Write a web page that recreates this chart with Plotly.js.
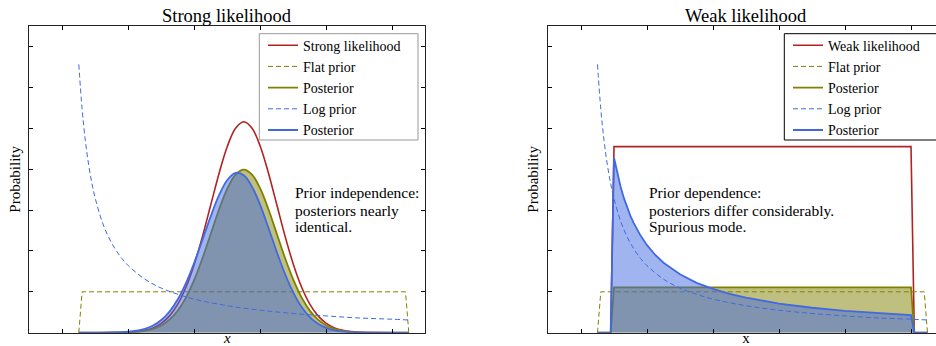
<!DOCTYPE html>
<html>
<head>
<meta charset="utf-8">
<script src="https://cdn.plot.ly/plotly-3.0.1.min.js"></script>
<style>
  html, body { margin: 0; padding: 0; overflow: hidden; background: #fff; }
  #plot { width: 960px; height: 346px; }
</style>
</head>
<body>
<div id="plot"></div>
<script>
// ---- Data ----
// Strong likelihood panel
const strongX = [0.5, 1, 1.5, 2, 2.25, 2.5, 2.75, 3, 3.25, 3.5, 3.75, 4, 4.25, 4.5, 4.75, 5, 5.25, 5.5,
                 5.75, 6, 6.25, 6.5, 6.75, 7, 7.25, 7.5, 7.75, 8, 8.25, 8.5, 8.75, 9, 9.5, 10, 10.5];
const strongLikelihood = [0, 0, 0.002, 0.011, 0.026, 0.057, 0.118, 0.227, 0.411, 0.698, 1.116, 1.675, 2.362,
                 3.130, 3.895, 4.554, 5.001, 5.16,
                 5.001, 4.554, 3.895, 3.130, 2.362, 1.675, 1.116, 0.698, 0.411, 0.227, 0.118, 0.057, 0.026,
                 0.011, 0.002, 0, 0];
const strongFlatPosterior = [0, 0, 0.001, 0.009, 0.020, 0.044, 0.091, 0.175, 0.318, 0.540, 0.863, 1.296, 1.827,
                 2.420, 3.012, 3.521, 3.867, 3.99,
                 3.867, 3.521, 3.012, 2.420, 1.827, 1.296, 0.863, 0.540, 0.318, 0.175, 0.091, 0.044, 0.020,
                 0.009, 0.001, 0, 0];
const strongLogPosterior = [0, 0.001, 0.005, 0.023, 0.048, 0.094, 0.175, 0.310, 0.518, 0.818, 1.221, 1.718, 2.279,
                 2.852, 3.363, 3.735, 3.907, 3.848,
                 3.567, 3.113, 2.556, 1.975, 1.435, 0.982, 0.631, 0.382, 0.217, 0.116, 0.059, 0.028, 0.012,
                 0.005, 0.001, 0, 0];
// Shared priors
const flatPriorX = [0.5, 0.6, 10.4, 10.5];
const flatPrior = [0, 1, 1, 0];
const logPriorX = [0.5, 0.6, 0.7, 0.8, 0.9, 1.0, 1.2, 1.4, 1.6, 1.8, 2.0, 2.5, 3, 3.5, 4, 5, 6, 7, 8, 9, 10, 10.5];
const logPrior = [6.56, 5.47, 4.69, 4.10, 3.64, 3.28, 2.73, 2.34, 2.05, 1.82, 1.64, 1.31, 1.09, 0.94, 0.82, 0.66,
                  0.55, 0.47, 0.41, 0.36, 0.33, 0.31];
// Weak likelihood panel
const weakBoxX = [0.5, 0.9, 1.0, 10.0, 10.1, 10.5];
const weakLikelihood = [0, 0, 4.55, 4.55, 0, 0];
const weakFlatPosterior = [0, 0, 1.11, 1.11, 0, 0];
const weakLogX = [0.5, 0.9, 1.0, 1.1, 1.2, 1.3, 1.4, 1.5, 1.6, 1.8, 2.0, 2.25, 2.5, 2.75, 3, 3.5, 4, 4.5, 5,
                  6, 7, 8, 9, 10, 10.1, 10.5];
const weakLogPosterior = [0, 0, 4.28, 3.89, 3.57, 3.29, 3.06, 2.85, 2.68, 2.38, 2.14, 1.90, 1.71, 1.56, 1.43,
                  1.22, 1.07, 0.95, 0.86, 0.71, 0.61, 0.535, 0.476, 0.428, 0, 0];
// Text
const legendNames = {strongLik: 'Strong likelihood', weakLik: 'Weak likelihood', flat: 'Flat prior',
                     post: 'Posterior', log: 'Log prior'};
const titles = ['Strong likelihood', 'Weak likelihood'];
const noteStrong = ['Prior independence:', 'posteriors nearly', 'identical.'];
const noteWeak = ['Prior dependence:', 'posteriors differ considerably.', 'Spurious mode.'];

// ---- Styling ----
const RED = '#b22222', OLIVE = '#808000', BLUE = '#4169e1';
const OLIVE_FILL = 'rgba(128,128,0,0.5)', BLUE_FILL = 'rgba(65,105,225,0.5)';
const FONT = 'Liberation Serif, Times New Roman, serif';
const W = 960, H = 346;

function panel(xa, ya, leg, likX, likY, likName, flatPostX, flatPostY, logPostX, logPostY, shape) {
  return [
    {x: likX, y: likY, xaxis: xa, yaxis: ya, legend: leg, name: likName, mode: 'lines',
     line: {color: RED, width: 1.6, shape: shape}},
    {x: flatPriorX, y: flatPrior, xaxis: xa, yaxis: ya, legend: leg, name: legendNames.flat, mode: 'lines',
     line: {color: OLIVE, width: 1, dash: '5px,3px'}},
    {x: flatPostX, y: flatPostY, xaxis: xa, yaxis: ya, showlegend: false, mode: 'lines', hoverinfo: 'skip',
     fill: 'tozeroy', fillcolor: OLIVE_FILL, line: {width: 0, shape: shape}},
    {x: flatPostX, y: flatPostY, xaxis: xa, yaxis: ya, legend: leg, name: legendNames.post, mode: 'lines',
     line: {color: OLIVE, width: 1.8, shape: shape}},
    {x: logPriorX, y: logPrior, xaxis: xa, yaxis: ya, legend: leg, name: legendNames.log, mode: 'lines',
     line: {color: BLUE, width: 1, dash: '5px,3px', shape: 'spline'}},
    {x: logPostX, y: logPostY, xaxis: xa, yaxis: ya, showlegend: false, mode: 'lines', hoverinfo: 'skip',
     fill: 'tozeroy', fillcolor: BLUE_FILL, line: {width: 0, shape: shape}},
    {x: logPostX, y: logPostY, xaxis: xa, yaxis: ya, legend: leg, name: legendNames.post, mode: 'lines',
     line: {color: BLUE, width: 1.8, shape: shape}}
  ];
}

const data = [].concat(
  panel('x', 'y', 'legend', strongX, strongLikelihood, legendNames.strongLik, strongX, strongFlatPosterior,
        strongX, strongLogPosterior, 'spline'),
  panel('x2', 'y2', 'legend2', weakBoxX, weakLikelihood, legendNames.weakLik, weakBoxX, weakFlatPosterior,
        weakLogX, weakLogPosterior, 'linear')
);

const yDom = [(H - 332.7) / H, (H - 26) / H];
function xAxis(dom, titleText) {
  return {domain: dom, range: [-1, 11], dtick: 2, tick0: 0, ticks: 'inside', ticklen: 4, tickcolor: '#000',
          tickwidth: 1, mirror: 'allticks', showline: true, linecolor: '#222', linewidth: 1,
          showgrid: false, zeroline: false, showticklabels: false, fixedrange: true,
          title: {text: titleText, font: {family: FONT, size: 15, color: '#000'}, standoff: 0}};
}
function yAxis(anchor) {
  return {domain: yDom, anchor: anchor, range: [0, 7.5], dtick: 1, tick0: 0, ticks: 'inside', ticklen: 4,
          tickcolor: '#000', tickwidth: 1, mirror: 'allticks', showline: true, linecolor: '#222', linewidth: 1,
          showgrid: false, zeroline: false, showticklabels: false, fixedrange: true,
          title: {text: 'Probability', font: {family: FONT, size: 15, color: '#000'}, standoff: 4}};
}
// legend boxes are drawn as shapes so that their size matches the reference; entries sit on top
function legendEntries(xpx) {
  return {x: xpx / W, xanchor: 'left', y: (H - 29.6) / H, yanchor: 'top', xref: 'paper', yref: 'paper',
          bgcolor: 'rgba(0,0,0,0)', borderwidth: 0,
          font: {family: FONT, size: 14, color: '#000'}, tracegroupgap: 0};
}
function legendFrame(x0px, x1px, border) {
  return {type: 'rect', xref: 'paper', yref: 'paper', x0: x0px / W, x1: x1px / W,
          y0: (H - 140) / H, y1: (H - 33.7) / H, layer: 'above',
          fillcolor: '#fff', line: {color: border, width: 1}};
}
function textLine(xa, ya, xfrac, ypx, txt) {
  return {xref: xa + ' domain', yref: ya + ' domain', x: xfrac, y: (332.7 - ypx) / 306.7,
          xanchor: 'left', yanchor: 'middle', showarrow: false, text: txt,
          font: {family: FONT, size: 15.5, color: '#000'}};
}
function subTitle(xa, ya, txt) {
  return {xref: xa + ' domain', yref: ya + ' domain', x: 0.5, y: 1, xanchor: 'center', yanchor: 'bottom',
          showarrow: false, text: txt, yshift: -2, font: {family: FONT, size: 18.5, color: '#000'}};
}
const linesY = [192.7, 210, 226.7];

const layout = {
  width: W, height: H, margin: {l: 0, r: 0, t: 0, b: 0},
  paper_bgcolor: '#fff', plot_bgcolor: '#fff', font: {family: FONT, color: '#000'},
  xaxis: xAxis([29.3 / W, 425.3 / W], '<i>x</i>'),
  yaxis: yAxis('x'),
  xaxis2: xAxis([548 / W, 944 / W], 'x'),
  yaxis2: yAxis('x2'),
  legend: legendEntries(263),
  legend2: legendEntries(788),
  showlegend: true,
  shapes: [legendFrame(259.3, 418, '#999'), legendFrame(784.3, 952, '#000')],
  annotations: [
    subTitle('x', 'y', titles[0]),
    subTitle('x2', 'y2', titles[1])
  ].concat(noteStrong.map((t, i) => textLine('x', 'y', 0.6667, linesY[i], t)))
   .concat(noteWeak.map((t, i) => textLine('x2', 'y2', 0.2492, linesY[i], t)))
};

Plotly.newPlot('plot', data, layout, {displayModeBar: false, staticPlot: true});
</script>
</body>
</html>
